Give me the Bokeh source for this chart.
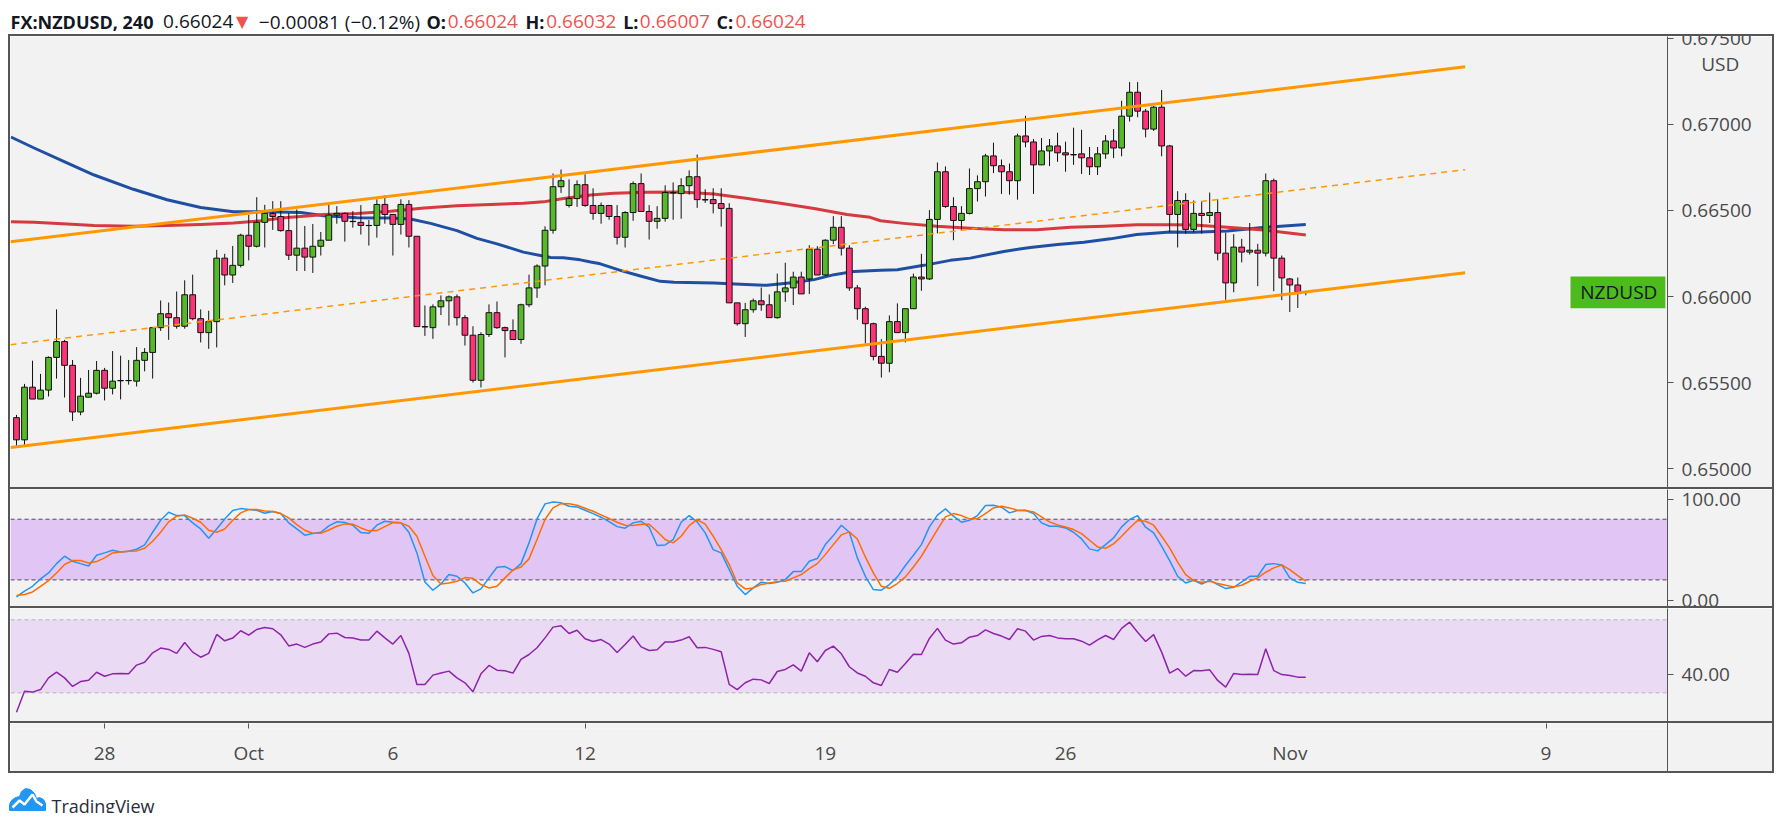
from bokeh.plotting import figure
from bokeh.models import (Range1d, FixedTicker, NumeralTickFormatter, BoxAnnotation,
                          Label, Span, ColumnDataSource, Div)
from bokeh.layouts import column, row
from bokeh.embed import file_html
from bokeh.resources import INLINE
from bokeh.core.properties import value

# ---------------- data ----------------
opens = [0.65296, 0.65167, 0.65473, 0.65404, 0.65456, 0.65646, 0.65738, 0.65600, 0.65329, 0.65415,
         0.65438, 0.65571, 0.65467, 0.65510, 0.65512, 0.65508, 0.65629, 0.65675, 0.65819, 0.65900,
         0.65877, 0.65827, 0.66010, 0.65871, 0.65790, 0.65854, 0.66223, 0.66125, 0.66181, 0.66356,
         0.66292, 0.66431, 0.66483, 0.66465, 0.66383, 0.66240, 0.66281, 0.66229, 0.66292, 0.66327,
         0.66473, 0.66483, 0.66437, 0.66431, 0.66413, 0.66413, 0.66535, 0.66477, 0.66419, 0.66535,
         0.66350, 0.65825, 0.65819, 0.65940, 0.65975, 0.65998, 0.65877, 0.65775, 0.65513, 0.65779,
         0.65906, 0.65819, 0.65802, 0.65750, 0.65952, 0.66050, 0.66177, 0.66385, 0.66638, 0.66529,
         0.66569, 0.66650, 0.66529, 0.66483, 0.66529, 0.66465, 0.66344, 0.66488, 0.66656, 0.66494,
         0.66437, 0.66454, 0.66604, 0.66598, 0.66644, 0.66696, 0.66563, 0.66563, 0.66540, 0.66512,
         0.65963, 0.65842, 0.65923, 0.65975, 0.65952, 0.65877, 0.66027, 0.66050, 0.66113, 0.66102,
         0.66275, 0.66125, 0.66327, 0.66402, 0.66281, 0.66050, 0.65929, 0.65842, 0.65652, 0.65612,
         0.65854, 0.65790, 0.65929, 0.66113, 0.66102, 0.66448, 0.66725, 0.66523, 0.66442, 0.66483,
         0.66627, 0.66667, 0.66817, 0.66760, 0.66725, 0.66673, 0.66933, 0.66898, 0.66765, 0.66846,
         0.66875, 0.66835, 0.66823, 0.66829, 0.66806, 0.66754, 0.66829, 0.66904, 0.66863, 0.67048,
         0.67187, 0.67077, 0.66973, 0.67100, 0.66875, 0.66477, 0.66558, 0.66390, 0.66483, 0.66471,
         0.66488, 0.66252, 0.66079, 0.66287, 0.66258, 0.66269, 0.66252, 0.66673, 0.66223, 0.66102,
         0.66067, 0.66024]
highs = [0.65312, 0.65492, 0.65627, 0.65550, 0.65652, 0.65925, 0.65748, 0.65631, 0.65527, 0.65573,
         0.65625, 0.65585, 0.65683, 0.65656, 0.65631, 0.65706, 0.65700, 0.65819, 0.65977, 0.65965,
         0.66029, 0.66094, 0.66127, 0.65925, 0.65917, 0.66271, 0.66248, 0.66294, 0.66365, 0.66475,
         0.66577, 0.66533, 0.66554, 0.66554, 0.66485, 0.66506, 0.66410, 0.66421, 0.66375, 0.66546,
         0.66525, 0.66488, 0.66496, 0.66531, 0.66444, 0.66565, 0.66588, 0.66477, 0.66565, 0.66560,
         0.66350, 0.65948, 0.65954, 0.66006, 0.66006, 0.66012, 0.65892, 0.65827, 0.65792, 0.65954,
         0.65971, 0.65825, 0.65867, 0.65958, 0.66127, 0.66187, 0.66408, 0.66715, 0.66738, 0.66681,
         0.66675, 0.66710, 0.66629, 0.66546, 0.66529, 0.66531, 0.66496, 0.66669, 0.66715, 0.66531,
         0.66525, 0.66646, 0.66663, 0.66687, 0.66733, 0.66825, 0.66623, 0.66629, 0.66629, 0.66542,
         0.65963, 0.65963, 0.65988, 0.66052, 0.66012, 0.66133, 0.66196, 0.66144, 0.66144, 0.66298,
         0.66292, 0.66333, 0.66467, 0.66467, 0.66298, 0.66067, 0.65940, 0.65848, 0.65752, 0.65890,
         0.65960, 0.65929, 0.66133, 0.66248, 0.66502, 0.66779, 0.66756, 0.66577, 0.66525, 0.66744,
         0.66704, 0.66829, 0.66894, 0.66796, 0.66773, 0.66946, 0.67050, 0.66915, 0.66921, 0.66915,
         0.66952, 0.66900, 0.66981, 0.66969, 0.66869, 0.66869, 0.66938, 0.66973, 0.67137, 0.67246,
         0.67246, 0.67090, 0.67108, 0.67200, 0.66881, 0.66612, 0.66600, 0.66558, 0.66552, 0.66604,
         0.66565, 0.66371, 0.66362, 0.66335, 0.66427, 0.66306, 0.66715, 0.66685, 0.66238, 0.66108,
         0.66110, 0.66032]
lows = [0.65133, 0.65137, 0.65404, 0.65404, 0.65419, 0.65523, 0.65413, 0.65277, 0.65310, 0.65415,
        0.65431, 0.65396, 0.65431, 0.65402, 0.65488, 0.65477, 0.65565, 0.65523, 0.65800, 0.65748,
        0.65813, 0.65813, 0.65862, 0.65733, 0.65696, 0.65704, 0.66065, 0.66079, 0.66169, 0.66210,
        0.66285, 0.66285, 0.66387, 0.66377, 0.66212, 0.66148, 0.66148, 0.66137, 0.66238, 0.66327,
        0.66423, 0.66319, 0.66400, 0.66360, 0.66296, 0.66342, 0.66423, 0.66238, 0.66360, 0.66285,
        0.65825, 0.65771, 0.65754, 0.65892, 0.65831, 0.65831, 0.65715, 0.65500, 0.65471, 0.65765,
        0.65812, 0.65646, 0.65750, 0.65725, 0.65938, 0.65992, 0.66065, 0.66365, 0.66602, 0.66517,
        0.66521, 0.66521, 0.66446, 0.66423, 0.66446, 0.66302, 0.66285, 0.66440, 0.66494, 0.66331,
        0.66394, 0.66435, 0.66446, 0.66452, 0.66592, 0.66515, 0.66544, 0.66483, 0.66406, 0.65963,
        0.65831, 0.65765, 0.65906, 0.65917, 0.65877, 0.65871, 0.65969, 0.65950, 0.66015, 0.66015,
        0.66125, 0.66119, 0.66304, 0.66238, 0.66033, 0.65865, 0.65727, 0.65629, 0.65529, 0.65560,
        0.65790, 0.65733, 0.65929, 0.66033, 0.66096, 0.66367, 0.66515, 0.66327, 0.66385, 0.66477,
        0.66552, 0.66581, 0.66717, 0.66596, 0.66592, 0.66563, 0.66867, 0.66596, 0.66765, 0.66758,
        0.66783, 0.66725, 0.66765, 0.66712, 0.66706, 0.66706, 0.66800, 0.66804, 0.66815, 0.67017,
        0.67042, 0.66925, 0.66962, 0.66815, 0.66373, 0.66285, 0.66365, 0.66373, 0.66365, 0.66427,
        0.66210, 0.65981, 0.66025, 0.66198, 0.66244, 0.66060, 0.66233, 0.66031, 0.65979, 0.65910,
        0.65933, 0.66007]
closes = [0.65167, 0.65473, 0.65404, 0.65456, 0.65646, 0.65738, 0.65600, 0.65329, 0.65421, 0.65438,
          0.65571, 0.65467, 0.65508, 0.65512, 0.65511, 0.65629, 0.65675, 0.65819, 0.65900, 0.65877,
          0.65827, 0.66010, 0.65871, 0.65790, 0.65854, 0.66223, 0.66125, 0.66181, 0.66356, 0.66292,
          0.66431, 0.66483, 0.66465, 0.66383, 0.66240, 0.66281, 0.66229, 0.66292, 0.66327, 0.66473,
          0.66483, 0.66437, 0.66435, 0.66413, 0.66412, 0.66535, 0.66477, 0.66419, 0.66535, 0.66350,
          0.65825, 0.65823, 0.65940, 0.65975, 0.65998, 0.65877, 0.65775, 0.65513, 0.65779, 0.65906,
          0.65819, 0.65802, 0.65750, 0.65952, 0.66050, 0.66177, 0.66385, 0.66638, 0.66673, 0.66569,
          0.66650, 0.66529, 0.66483, 0.66529, 0.66465, 0.66344, 0.66488, 0.66656, 0.66494, 0.66437,
          0.66454, 0.66604, 0.66602, 0.66644, 0.66696, 0.66563, 0.66561, 0.66540, 0.66512, 0.65963,
          0.65842, 0.65923, 0.65975, 0.65952, 0.65877, 0.66027, 0.66050, 0.66113, 0.66015, 0.66275,
          0.66125, 0.66327, 0.66402, 0.66281, 0.66050, 0.65929, 0.65842, 0.65652, 0.65612, 0.65854,
          0.65790, 0.65929, 0.66113, 0.66102, 0.66448, 0.66725, 0.66523, 0.66442, 0.66483, 0.66627,
          0.66667, 0.66817, 0.66760, 0.66725, 0.66673, 0.66933, 0.66898, 0.66765, 0.66846, 0.66875,
          0.66835, 0.66823, 0.66825, 0.66806, 0.66754, 0.66829, 0.66904, 0.66863, 0.67048, 0.67187,
          0.67077, 0.66973, 0.67100, 0.66875, 0.66477, 0.66558, 0.66390, 0.66483, 0.66471, 0.66488,
          0.66252, 0.66079, 0.66287, 0.66258, 0.66269, 0.66252, 0.66673, 0.66223, 0.66108, 0.66067,
          0.66027, 0.66024]

# moving averages (sampled along the curves; x = bar index)
ma_blue_x = [-0.7, 2.2, 6.3, 9.7, 14.6, 18.8, 23, 27.1, 31.3, 35.5, 38.4, 42.5, 46.7, 49.2, 51.7, 55,
             57.5, 60, 63.3, 66.7, 68.3, 70.4, 71.7, 72.9, 75.4, 77.9, 80.4, 82.1, 87.1, 90.4, 93.7,
             97.1, 99.6, 102.1, 104.6, 107.9, 110, 113.3, 116.6, 119.1, 123.3, 126.6, 130, 133.3,
             136.6, 139.9, 144.1, 147, 151.2, 155.3, 161]
ma_blue_y = [0.66927, 0.66863, 0.66777, 0.66706, 0.66623, 0.66562, 0.66517, 0.66492, 0.66492, 0.66488,
             0.66469, 0.66458, 0.66456, 0.66450, 0.66425, 0.66383, 0.66338, 0.66306, 0.66258, 0.66227,
             0.66225, 0.66213, 0.66200, 0.66190, 0.66152, 0.66119, 0.66088, 0.66083, 0.66079, 0.66071,
             0.66065, 0.66081, 0.66098, 0.66127, 0.66146, 0.66152, 0.66156, 0.66181, 0.66210, 0.66223,
             0.66262, 0.66285, 0.66302, 0.66315, 0.66335, 0.66360, 0.66375, 0.66373, 0.66381, 0.66400,
             0.66419]
ma_red_x = [-0.7, 2.2, 6.3, 9.7, 14.6, 18.8, 23, 27.1, 30.5, 33.4, 35.5, 38.4, 42.5, 46.7, 50.9, 55,
            59.2, 63.3, 65.8, 68.3, 71.7, 74.6, 78.7, 82.9, 87.1, 91.3, 95.4, 99.6, 103.7, 106.6,
            107.9, 110.8, 114.9, 119.1, 123.3, 127.4, 131.6, 135.8, 139.9, 144.1, 147, 151.2, 155.3, 161]
ma_red_y = [0.66435, 0.66431, 0.66421, 0.66412, 0.66408, 0.66412, 0.66419, 0.66427, 0.66440, 0.66458,
            0.66465, 0.66477, 0.66483, 0.66496, 0.66515, 0.66527, 0.66535, 0.66542, 0.66550, 0.66569,
            0.66590, 0.66600, 0.66606, 0.66608, 0.66596, 0.66569, 0.66542, 0.66512, 0.66477, 0.66460,
            0.66440, 0.66425, 0.66408, 0.66396, 0.66388, 0.66388, 0.66402, 0.66408, 0.66417, 0.66417,
            0.66415, 0.66402, 0.66388, 0.66358]

# trend channel drawing (two anchor points each)
chan_x = [-0.75, 180.9]
chan_upper = [0.66318, 0.67335]
chan_lower = [0.65122, 0.66138]
chan_mid = [0.65720, 0.66737]

stoch_k = [3.2, 8.8, 13.7, 21.0, 26.9, 36.1, 43.4, 38.5, 36.1, 33.8,
           44.4, 46.7, 49.3, 47.7, 48.3, 50.3, 54.6, 67.1, 79.0, 86.9,
           83.6, 83.6, 76.4, 70.4, 61.2, 70.4, 80.3, 88.6, 90.5, 89.6,
           88.9, 85.9, 87.6, 85.6, 76.4, 70.4, 64.2, 65.8, 67.1, 73.4,
           77.4, 76.7, 74.1, 66.8, 66.2, 74.1, 78.0, 77.0, 76.4, 67.1,
           46.7, 18.0, 9.8, 16.0, 25.3, 23.6, 17.0, 7.1, 11.1, 22.0,
           32.5, 33.2, 29.2, 36.1, 56.6, 80.3, 95.2, 97.1, 96.2, 92.9,
           92.2, 88.9, 85.6, 82.0, 77.7, 72.7, 71.1, 76.4, 78.0, 72.1,
           54.0, 54.6, 59.9, 77.0, 83.6, 77.4, 66.5, 50.0, 46.7, 30.2,
           13.7, 5.5, 12.1, 17.7, 16.4, 17.7, 20.3, 28.2, 28.2, 38.5,
           41.1, 54.9, 63.8, 74.1, 67.1, 41.8, 23.6, 10.4, 9.8, 15.4,
           23.0, 34.2, 44.4, 54.9, 72.4, 84.0, 90.2, 83.0, 77.0, 79.0,
           83.6, 93.5, 93.8, 91.9, 86.3, 88.6, 88.9, 85.6, 76.4, 73.1,
           73.1, 71.4, 67.1, 60.5, 50.7, 48.7, 54.9, 61.5, 72.4, 79.7,
           83.6, 72.1, 66.5, 53.3, 39.1, 23.6, 17.0, 19.7, 16.0, 19.7,
           15.4, 11.4, 12.7, 18.0, 23.6, 23.6, 35.2, 36.1, 34.8, 22.0,
           17.7, 16.4]
stoch_d = [4.5, 5.5, 8.1, 13.7, 19.3, 26.9, 35.2, 39.1, 39.1, 36.8,
           38.1, 41.8, 46.7, 47.7, 48.3, 48.7, 51.3, 58.2, 67.1, 77.4,
           83.0, 84.3, 81.0, 77.0, 69.1, 67.1, 70.4, 79.0, 86.3, 89.6,
           89.6, 88.2, 87.6, 85.6, 81.3, 74.7, 69.1, 66.2, 66.2, 69.4,
           73.1, 75.4, 75.1, 71.4, 68.5, 68.8, 72.7, 76.7, 76.4, 73.1,
           63.2, 43.4, 24.3, 16.0, 17.0, 18.7, 22.3, 21.6, 15.4, 12.1,
           13.7, 22.0, 29.9, 32.8, 40.8, 59.9, 79.7, 91.2, 95.5, 95.2,
           93.8, 90.9, 87.9, 84.3, 80.7, 77.0, 74.1, 73.7, 75.1, 75.1,
           67.8, 59.9, 56.6, 63.2, 73.7, 79.7, 75.1, 63.2, 50.0, 35.2,
           17.0, 11.1, 12.1, 15.4, 17.0, 18.3, 18.7, 22.0, 25.3, 31.2,
           36.1, 45.0, 54.9, 64.5, 67.5, 60.5, 42.7, 26.9, 13.7, 11.7,
           16.4, 23.0, 32.8, 43.4, 56.6, 69.8, 82.3, 85.6, 83.6, 80.3,
           80.7, 85.6, 91.2, 92.9, 91.2, 88.9, 88.6, 87.2, 82.3, 77.4,
           74.4, 72.4, 69.8, 65.8, 59.2, 52.6, 51.3, 55.6, 63.2, 71.4,
           78.7, 78.0, 74.1, 63.2, 51.6, 37.5, 25.3, 19.3, 17.7, 18.7,
           16.4, 14.7, 13.1, 14.7, 18.7, 22.0, 27.6, 31.9, 34.8, 30.2,
           24.3, 18.7]
rsi = [19.4, 30.9, 30.4, 31.8, 38.2, 41.3, 38.2, 33.5, 36.2, 36.9,
       41.3, 39.1, 40.4, 40.6, 40.4, 45.2, 46.8, 51.9, 54.5, 53.8,
       51.6, 57.6, 52.3, 49.5, 51.6, 62.0, 58.5, 60.0, 64.0, 61.6,
       64.7, 65.8, 65.1, 61.8, 55.7, 56.7, 54.9, 56.7, 57.8, 62.3,
       62.7, 60.3, 60.0, 59.0, 59.0, 63.8, 60.1, 56.7, 61.4, 51.6,
       34.6, 34.6, 39.7, 40.9, 41.9, 38.2, 35.5, 30.6, 40.4, 45.0,
       42.4, 42.1, 40.8, 48.3, 51.0, 54.7, 60.1, 66.0, 66.7, 62.5,
       64.3, 59.6, 58.1, 59.2, 56.7, 52.1, 56.5, 61.1, 55.2, 53.2,
       53.6, 57.9, 57.9, 58.9, 60.7, 54.7, 54.9, 53.8, 52.5, 34.6,
       31.8, 35.5, 37.5, 37.1, 35.1, 41.7, 42.8, 45.3, 41.9, 51.9,
       47.0, 53.2, 55.6, 51.4, 44.3, 40.9, 39.1, 35.5, 34.0, 42.8,
       41.3, 46.1, 51.2, 51.0, 59.8, 65.3, 58.9, 56.7, 57.4, 60.5,
       61.4, 64.5, 62.5, 61.1, 59.2, 65.1, 63.8, 58.9, 60.9, 61.4,
       60.1, 59.6, 59.6, 58.3, 56.1, 59.0, 61.4, 59.2, 65.3, 68.7,
       63.2, 58.1, 61.9, 52.3, 40.8, 43.3, 39.1, 42.2, 42.1, 42.6,
       36.8, 33.1, 40.6, 40.0, 40.2, 40.0, 54.1, 42.2, 40.0, 39.5,
       38.6, 38.6]

price_ticks = [0.650, 0.655, 0.660, 0.665, 0.670, 0.675]
usd_level = 0.67349          # where the currency badge sits on the price scale
stoch_ticks = [0, 100]
stoch_levels = [20, 80]
rsi_ticks = [40]
rsi_levels = [30, 70]
time_tick_pos = [11, 29, 47, 71, 101, 131, 159, 191]
time_tick_labels = ["28", "Oct", "6", "12", "19", "26", "Nov", "9"]
time_tick_marks = [11, 29, 71, 191]

hdr_bold_text = ["FX:NZDUSD, 240", "O:", "H:", "L:", "C:"]
hdr_val_text = ["0.66024", "\u22120.00081 (\u22120.12%)", "0.66024", "0.66032", "0.66007", "0.66024"]

# ---------------- styling ----------------
BG = "#f2f2f2"
DARK = "#555555"
FONT = "Open Sans"
AX_TXT = "#4a4a4a"
GREEN = "#56b92a"
RED = "#fb3478"
ORANGE = "#ff9800"
TXT = "#131722"
VALRED = "#ef5350"

W_OUT = 1766
W_IN = 1762
AXIS_W = 105
FRAME_W = W_IN - AXIS_W
H_MAIN, H_STO, H_RSI, H_TIME = 451, 117, 113, 48

n = len(opens)
xs = list(range(n))
x_range = Range1d(-0.75, 206.17)


def style_yaxis(ax):
    ax.axis_line_color = DARK
    ax.axis_line_width = 1
    ax.major_tick_line_color = DARK
    ax.major_tick_out = 6
    ax.major_tick_in = 0
    ax.minor_tick_line_color = None
    ax.major_label_standoff = 8
    ax.major_label_text_font = FONT
    ax.major_label_text_font_size = "19px"
    ax.major_label_text_color = AX_TXT


def pane(height, yr):
    p = figure(width=W_IN, height=height, x_range=x_range, y_range=yr,
               toolbar_location=None, output_backend="svg",
               x_axis_location=None, y_axis_location="right",
               min_border_left=0, min_border_right=AXIS_W,
               min_border_top=0, min_border_bottom=0)
    p.background_fill_color = BG
    p.border_fill_color = BG
    p.outline_line_color = None
    p.grid.visible = False
    style_yaxis(p.yaxis[0])
    return p


def bar(w, h, color="white"):
    return Div(text="", width=w, height=h, margin=0,
               styles={"background-color": color, "padding": "0", "margin": "0"})


# ---------------- main price pane ----------------
pm = pane(H_MAIN, Range1d(0.64890, 0.67511))
ya = pm.yaxis[0]
ya.ticker = FixedTicker(ticks=price_ticks + [usd_level], minor_ticks=price_ticks)
ya.formatter = NumeralTickFormatter(format="0.00000")
ya.major_label_overrides = {usd_level: "\u00a0\u00a0\u00a0\u00a0USD"}
ya.major_tick_line_color = None
ya.minor_tick_line_color = DARK
ya.minor_tick_out = 6
ya.minor_tick_in = 0

pm.line(ma_blue_x, ma_blue_y, line_color="#1f4fa3", line_width=3, line_join="round")
pm.line(ma_red_x, ma_red_y, line_color="#d6393f", line_width=3, line_join="round")

csrc = ColumnDataSource(dict(
    x=xs,
    top=[max(o, c) for o, c in zip(opens, closes)],
    bottom=[min(o, c) for o, c in zip(opens, closes)],
    high=highs, low=lows,
    color=[GREEN if c >= o else RED for o, c in zip(opens, closes)],
))
pm.segment(x0="x", y0="low", x1="x", y1="high", source=csrc, line_color="#111111", line_width=1)
pm.vbar(x="x", width=0.72, top="top", bottom="bottom", fill_color="color",
        line_color="#111111", line_width=1, source=csrc)

pm.line(chan_x, chan_upper, line_color=ORANGE, line_width=3)
pm.line(chan_x, chan_lower, line_color=ORANGE, line_width=3)
pm.line(chan_x, chan_mid, line_color=ORANGE, line_width=1.5, line_dash="6 5")

last = closes[-1]
pm.add_layout(BoxAnnotation(left=194.06, right=205.9, bottom=last - 0.00092, top=last + 0.00092,
                            fill_color="#4dbb1c", fill_alpha=1.0, line_color=None))
pm.add_layout(Label(x=204.9, y=last, text="NZDUSD", text_align="right", text_baseline="middle",
                    text_font=FONT, text_font_size="19px", text_color=TXT))

# ---------------- stochastic pane ----------------
pst = pane(H_STO, Range1d(-6.3, 109.4))
pst.yaxis[0].ticker = FixedTicker(ticks=stoch_ticks)
pst.yaxis[0].formatter = NumeralTickFormatter(format="0.00")
pst.add_layout(BoxAnnotation(bottom=stoch_levels[0], top=stoch_levels[1], fill_color="#e1c5f4",
                             fill_alpha=1.0, line_color=None, level="underlay"))
for lv in stoch_levels:
    pst.add_layout(Span(location=lv, dimension="width", line_color="#4e4e58", line_width=1,
                        line_dash="4 3", level="underlay"))
pst.line(xs, stoch_k, line_color="#2196f3", line_width=1.5)
pst.line(xs, stoch_d, line_color="#ff6d00", line_width=1.5)

# ---------------- RSI pane ----------------
prs = pane(H_RSI, Range1d(14.3, 76.2))
prs.yaxis[0].ticker = FixedTicker(ticks=rsi_ticks)
prs.yaxis[0].formatter = NumeralTickFormatter(format="0.00")
prs.add_layout(BoxAnnotation(bottom=rsi_levels[0], top=rsi_levels[1], fill_color="#eadaf3",
                             fill_alpha=1.0, line_color=None, level="underlay"))
for lv in rsi_levels:
    prs.add_layout(Span(location=lv, dimension="width", line_color="#b3b3b8", line_width=1,
                        line_dash="4 3", level="underlay"))
prs.line(xs, rsi, line_color="#8e24aa", line_width=1.5)

# ---------------- time axis strip ----------------
tf = figure(width=FRAME_W, height=H_TIME, x_range=x_range, y_range=Range1d(0, 1),
            toolbar_location=None, output_backend="svg",
            y_axis_location=None, x_axis_location="below",
            min_border_left=0, min_border_right=0, min_border_top=0, min_border_bottom=H_TIME - 5)
tf.background_fill_color = BG
tf.border_fill_color = BG
tf.outline_line_color = None
tf.grid.visible = False
xa = tf.xaxis[0]
xa.ticker = FixedTicker(ticks=time_tick_pos, minor_ticks=time_tick_marks)
xa.major_label_overrides = {p: l for p, l in zip(time_tick_pos, time_tick_labels)}
xa.axis_line_color = None
xa.major_tick_line_color = None
xa.minor_tick_line_color = DARK
xa.minor_tick_out = 0
xa.minor_tick_in = 5
xa.major_label_standoff = 5
xa.major_label_text_font = FONT
xa.major_label_text_font_size = "19px"
xa.major_label_text_color = AX_TXT

time_row = row(tf, bar(1, H_TIME, DARK), bar(AXIS_W - 1, H_TIME, BG))

# ---------------- header ----------------
hd = figure(width=W_OUT, height=34, x_range=Range1d(0, W_OUT), y_range=Range1d(0, 34),
            toolbar_location=None, output_backend="svg",
            x_axis_location=None, y_axis_location=None,
            min_border_left=0, min_border_right=0, min_border_top=0, min_border_bottom=0)
hd.outline_line_color = None
hd.grid.visible = False
hd.background_fill_color = "white"
hd.border_fill_color = "white"
hd.text(x=[2, 418, 517, 614.7, 708], y=[12.7] * 5, text=hdr_bold_text,
        text_font=value(FONT), text_font_size="18px", text_font_style="bold",
        text_color=TXT, text_baseline="alphabetic")
hsrc = ColumnDataSource(dict(x=[154.6, 250.3, 439.3, 537.7, 631.3, 727], y=[12.7] * 6,
                             text=hdr_val_text,
                             color=[TXT, TXT, VALRED, VALRED, VALRED, VALRED]))
hd.text(x="x", y="y", text="text", source=hsrc, text_font=value(FONT), text_font_size="19px",
        text_color="color", text_baseline="alphabetic")
hd.text(x=[227.4], y=[12.7], text=["\u25bc"], text_font=value("DejaVu Sans"),
        text_font_size="16px", text_color=VALRED, text_baseline="alphabetic")

# ---------------- footer (logo) ----------------
ft = figure(width=W_OUT, height=40, x_range=Range1d(0, W_OUT), y_range=Range1d(0, 40),
            toolbar_location=None, output_backend="svg",
            x_axis_location=None, y_axis_location=None,
            min_border_left=0, min_border_right=0, min_border_top=0, min_border_bottom=0)
ft.outline_line_color = None
ft.grid.visible = False
ft.background_fill_color = "white"
ft.border_fill_color = "white"
ft.patch([1, 37, 37, 35, 31, 28, 26, 22, 17, 13, 11, 7, 3, 1],
         [3, 3, 10, 14, 16, 15, 20, 24, 25, 22, 17, 16, 13, 9],
         fill_color="#2196f3", line_color="#2196f3")
ft.line([4, 11, 16, 24, 28, 34], [6, 13, 9, 19, 12, 8], line_color="white", line_width=2.5)
ft.text(x=[43], y=[7.5], text=["TradingView"], text_font=value(FONT), text_font_size="18px",
        text_color="#2a2e39", text_baseline="alphabetic")

# ---------------- layout ----------------
inner = column(pm, bar(W_IN, 2, DARK), pst, bar(W_IN, 2, DARK), prs, bar(W_IN, 2, DARK), time_row)
H_IN = H_MAIN + 2 + H_STO + 2 + H_RSI + 2 + H_TIME
body = row(bar(2, H_IN, DARK), inner, bar(2, H_IN, DARK))
chart = column(hd, bar(W_OUT, 2, DARK), body, bar(W_OUT, 2, DARK), ft)
page = row(bar(8, 34 + 2 + H_IN + 2 + 40, "white"), chart)

open("out.html", "w").write(file_html(page, INLINE))
